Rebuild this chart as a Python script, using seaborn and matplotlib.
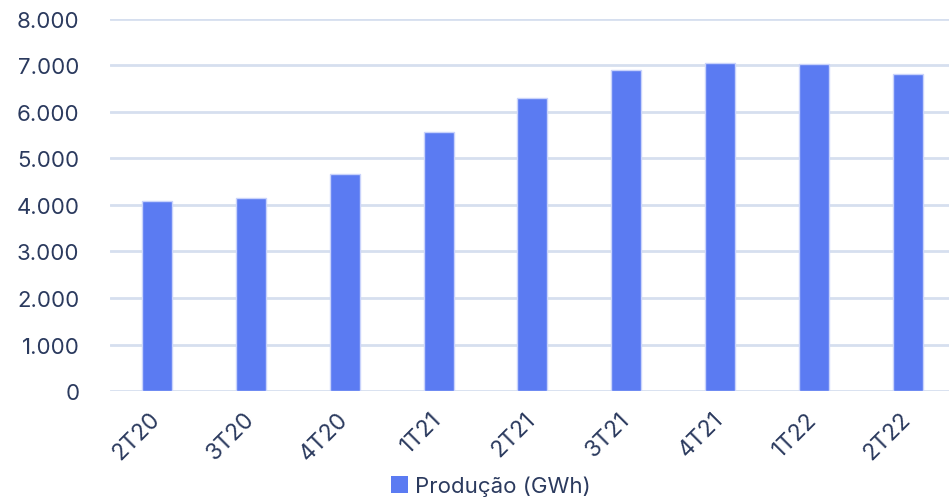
import numpy as np
import pandas as pd
import seaborn as sns
import matplotlib.pyplot as plt
import matplotlib.transforms as mtransforms
from matplotlib.patches import Patch

quarters = ['2T20', '3T20', '4T20', '1T21', '2T21', '3T21', '4T21', '1T22', '2T22']
production = [4086, 4137, 4653, 5569, 6288, 6904, 7048, 7026, 6805]
y_ticks = [0, 1000, 2000, 3000, 4000, 5000, 6000, 7000, 8000]
series_name = 'Produção (GWh)'

BAR = '#5B7BF2'
GRID = '#D6DFEF'
TEXT = '#2B3A5E'

sns.set_theme(style='white')
plt.rcParams['font.family'] = ['Inter', 'DejaVu Sans']

df = pd.DataFrame({'quarter': quarters, 'value': production})

fig = plt.figure(figsize=(9.49, 5.02), dpi=100)
ax = fig.add_axes([0.116, 0.219, 1.006 - 0.116, 0.9608 - 0.219])

sns.barplot(data=df, x='quarter', y='value', color=BAR, saturation=1,
            width=0.32, edgecolor='#C9D3FB', linewidth=1, ax=ax, zorder=3)

ax.set_ylim(0, 8000)
ax.set_xlim(-0.5, len(quarters) - 0.5)
ax.set_yticks(y_ticks)
ax.set_yticklabels([f'{v:,}'.replace(',', '.') for v in y_ticks])
ax.yaxis.grid(True, color=GRID, linewidth=2, zorder=0)
ax.set_axisbelow(True)
ax.set_xlabel('')
ax.set_ylabel('')
for s in ax.spines.values():
    s.set_visible(False)

ax.tick_params(axis='y', length=0, pad=22, labelsize=16, labelcolor=TEXT)
ax.tick_params(axis='x', length=0, pad=12, labelsize=16.5, labelcolor=TEXT)
shift = mtransforms.ScaledTranslation(-8 / 100, 0, fig.dpi_scale_trans)
for lbl in ax.get_xticklabels():
    lbl.set_rotation(45)
    lbl.set_ha('right')
    lbl.set_rotation_mode('anchor')
    lbl.set_transform(lbl.get_transform() + shift)

handle = Patch(facecolor=BAR, edgecolor='none', label=series_name)
fig.legend(handles=[handle], loc='center', bbox_to_anchor=(491 / 949, 1 - 487 / 502),
           frameon=False, fontsize=16, labelcolor=TEXT, handlelength=0.75,
           handleheight=0.75, handletextpad=0.3)

fig.savefig('out.png', dpi=100)
